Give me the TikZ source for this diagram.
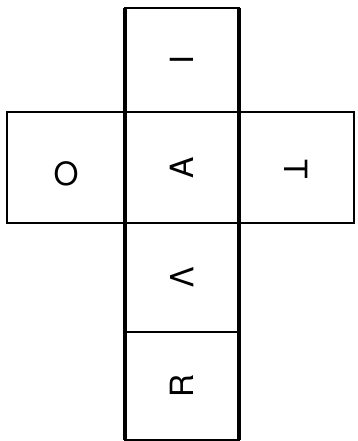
\documentclass[tikz,border=0pt]{standalone}
\usepackage{fontspec}
\setmainfont{TeX Gyre Heros}
\usetikzlibrary{positioning}
\tikzset{
  face/.style={draw,rectangle,line width=2.1pt,inner sep=0pt,outer sep=0pt},
  colface/.style={face,minimum width=114pt},
  letter/.style={font=\fontsize{32}{32}\selectfont,inner sep=0pt}
}
\begin{document}
\begin{tikzpicture}[x=1pt,y=-1pt]
  \useasboundingbox (0,0) rectangle (357,441);
  % Side faces
  \node[face, minimum width=118pt, minimum height=111pt] (fO) at (66,167.5) {};
  \node[face, minimum width=115pt, minimum height=111pt] (fT) at (296.5,167.5) {};

  % Middle column
  \node[colface, minimum height=104pt] (fI) at (182,60) {};
  \node[colface, minimum height=111pt] (fA) at (182,167.5) {};
  \node[colface, minimum height=109pt] (fV) at (182,277.5) {};
  \node[colface, minimum height=108pt] (fR) at (182,386) {};

  % Heavier verticals of the column
  \draw[line width=3.2pt] (fI.north west) -- (fR.south west);
  \draw[line width=3.2pt] (fI.north east) -- (fR.south east);

  % Letters
  \node[letter, rotate=90] (lI) at (fI.center) {I};
  \node[letter] (lO) at ([yshift=-6pt]fO.center) {O};
  \node[letter, rotate=90] (lA) at (fA.center) {A};
  \node[letter, rotate=-90] (lT) at ([yshift=-2pt]fT.center) {T};
  \node[letter, rotate=-90] (lV) at (fV.center) {V};
  \node[letter, rotate=90] (lR) at (fR.center) {R};
\end{tikzpicture}
\end{document}
